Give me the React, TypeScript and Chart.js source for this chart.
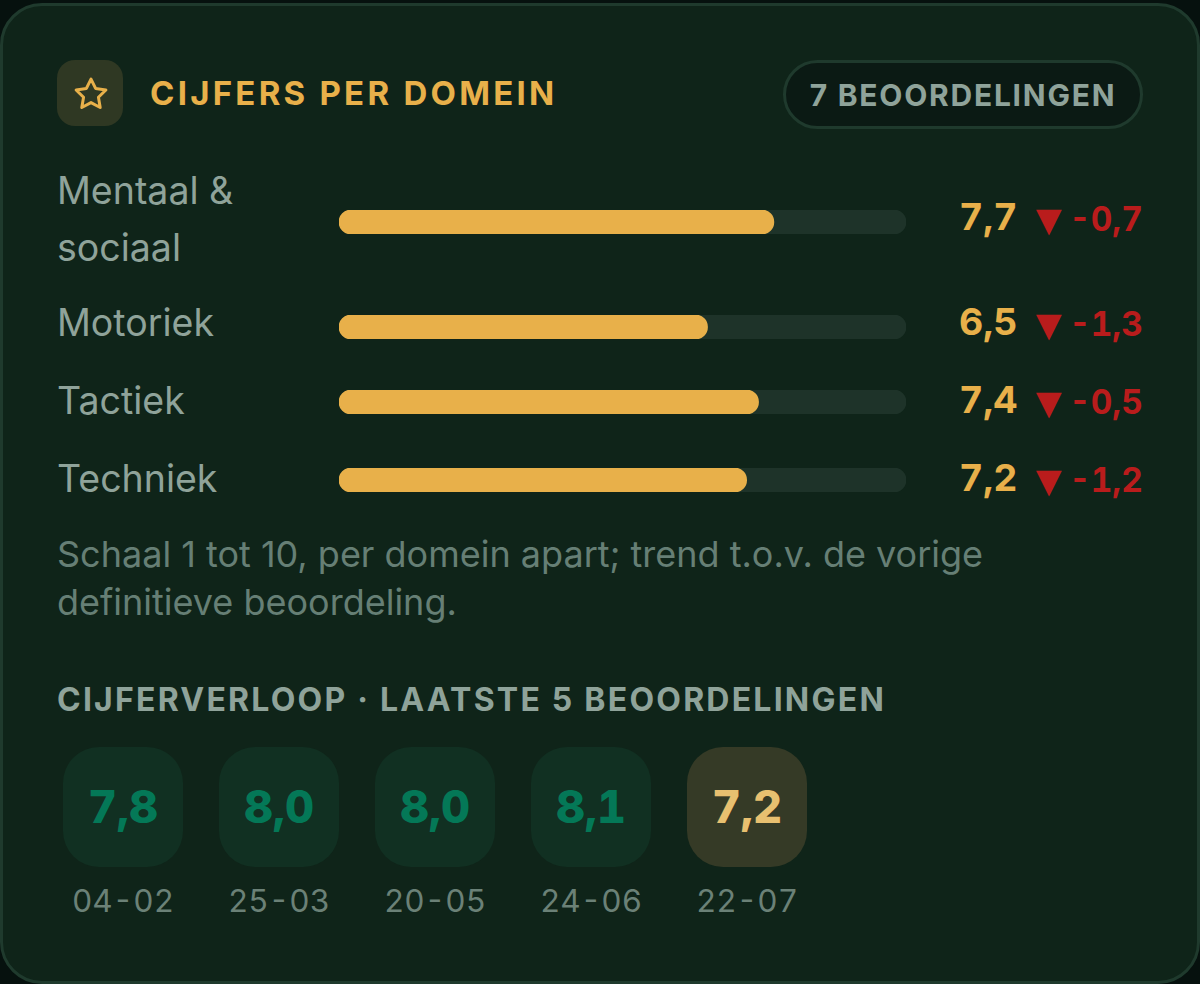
import React, { useEffect, useRef } from "react";
import { Chart, registerables } from "chart.js";

Chart.register(...registerables);

const domains = ["Mentaal &\nsociaal", "Motoriek", "Tactiek", "Techniek"];
const scores = [7.67, 6.5, 7.4, 7.19];
const scoreLabels = ["7,7", "6,5", "7,4", "7,2"];
const trends = ["-0,7", "-1,3", "-0,5", "-1,2"];
const scaleMax = 10;
const historyValues = ["7,8", "8,0", "8,0", "8,1", "7,2"];
const historyDates = ["04-02", "25-03", "20-05", "24-06", "22-07"];

const rowBarTop = [210, 315, 390, 468];
const rowLabelTop = [162, 294, 372, 450];
const rowValueTop = [188, 293, 371, 449];
const FONT = "Inter, sans-serif";

function abs(left: number, top: number, extra: React.CSSProperties = {}): React.CSSProperties {
  return { position: "absolute", left, top, whiteSpace: "pre", ...extra };
}

function BarRow({ label, value }: { label: string; value: number }) {
  const ref = useRef<HTMLCanvasElement | null>(null);
  useEffect(() => {
    const chart = new Chart(ref.current!, {
      type: "bar",
      data: {
        labels: [label],
        datasets: [
          {
            data: [value],
            backgroundColor: "#e8b04a",
            borderRadius: 12,
            borderSkipped: false,
            barThickness: 24,
            order: 1,
          },
          {
            data: [scaleMax],
            backgroundColor: "#1e3329",
            borderRadius: 12,
            borderSkipped: false,
            barThickness: 24,
            order: 2,
          },
        ],
      },
      options: {
        indexAxis: "y",
        responsive: false,
        animation: false,
        datasets: { bar: { grouped: false } },
        layout: { padding: 0 },
        plugins: { legend: { display: false }, tooltip: { enabled: false } },
        scales: {
          x: { display: false, min: 0, max: scaleMax },
          y: { display: false },
        },
      } as any,
    });
    return () => chart.destroy();
  }, [label, value]);
  return <canvas ref={ref} width={567} height={24} style={{ display: "block", width: 567, height: 24 }} />;
}

export default function App() {
  useEffect(() => {
    document.body.style.margin = "0";
    document.body.style.background = "#06110e";
  }, []);
  const tab: React.CSSProperties = { fontVariantNumeric: "tabular-nums" };
  return (
    <div style={{ position: "absolute", left: 0, top: 0, width: 1200, height: 984, overflow: "hidden", background: "#06110e", fontFamily: FONT }}>
      <div style={{ position: "absolute", left: 0, top: 3, width: 1200, height: 981, boxSizing: "border-box", background: "#0f2419", border: "3px solid #1f3a2d", borderRadius: 42 }} />

      <div style={{ position: "absolute", left: 57, top: 60, width: 66, height: 66, borderRadius: 18, background: "#2f3823", display: "flex", alignItems: "center", justifyContent: "center" }}>
        <svg width="38" height="38" viewBox="0 0 24 24" fill="none" stroke="#e8b04a" strokeWidth="1.9" strokeLinejoin="round" strokeLinecap="round" style={{ position: "relative", left: 1, top: 1 }}>
          <path d="M12 2.6l2.9 5.9 6.5.95-4.7 4.58 1.11 6.47L12 17.45 6.19 20.5 7.3 14.03 2.6 9.45l6.5-.95z" />
        </svg>
      </div>
      <div style={abs(150, 74, { fontSize: 33, fontWeight: 700, lineHeight: "39px", letterSpacing: 3.25, color: "#e8b04a" })}>CIJFERS PER DOMEIN</div>

      <div style={{ position: "absolute", left: 783, top: 60, width: 360, height: 69, boxSizing: "border-box", border: "3px solid #1f3a2d", borderRadius: 35, background: "#0b1a14", display: "flex", alignItems: "center", justifyContent: "center", color: "#8fa39a", fontSize: 30, fontWeight: 700, letterSpacing: 1.75, whiteSpace: "pre" }}>7 BEOORDELINGEN</div>

      {domains.map((d, i) => (
        <React.Fragment key={d}>
          <div style={abs(57, rowLabelTop[i], { fontSize: 37.5, lineHeight: i === 0 ? "57px" : "58px", color: "#8fa39a" })}>{d}</div>
          <div style={{ position: "absolute", left: 339, top: rowBarTop[i] }}>
            <BarRow label={d} value={scores[i]} />
          </div>
          <div style={{ ...tab, position: "absolute", right: 1200 - 1017.5, top: rowValueTop[i], fontSize: 37.5, lineHeight: "58px", fontWeight: 700, color: "#e8b04a", whiteSpace: "pre" }}>{scoreLabels[i]}</div>
          <div style={{ position: "absolute", left: 1027, top: rowValueTop[i] + 3, fontSize: 44, lineHeight: "58px", fontWeight: 700, fontFamily: "'Liberation Sans', sans-serif", color: "#b91c1c", whiteSpace: "pre" }}>▼</div>
          <div style={{ ...tab, position: "absolute", right: 1200 - 1143, top: rowValueTop[i] + 2, fontSize: 33.5, lineHeight: "58px", fontWeight: 700, color: "#b91c1c", whiteSpace: "pre" }}>{trends[i]}</div>
        </React.Fragment>
      ))}

      <div style={abs(57, 530, { fontSize: 36, lineHeight: "48px", color: "#667f75" })}>{"Schaal 1 tot 10, per domein apart; trend t.o.v. de vorige\ndefinitieve beoordeling."}</div>

      <div style={abs(57, 681, { fontSize: 32, lineHeight: "38px", fontWeight: 700, letterSpacing: 2.22, color: "#8fa39a" })}>CIJFERVERLOOP · LAATSTE 5 BEOORDELINGEN</div>

      {historyValues.map((v, i) => {
        const last = i === historyValues.length - 1;
        const left = 63 + i * 156;
        return (
          <React.Fragment key={i}>
            <div style={{ position: "absolute", left, top: 747, width: 120, height: 120, borderRadius: 36, background: last ? "#353a26" : "#113022" }} />
            <div style={{ ...tab, position: "absolute", left, top: 746, width: 120, height: 120, display: "flex", alignItems: "center", justifyContent: "center", fontSize: 45, fontWeight: 800, color: last ? "#e8c070" : "#047857" }}>{v}</div>
            <div style={{ ...tab, position: "absolute", left: left - 18, width: 156, top: 881, textAlign: "center", fontSize: 31.5, lineHeight: "40px", letterSpacing: 0, color: "#6b8177" }}>{historyDates[i]}</div>
          </React.Fragment>
        );
      })}
    </div>
  );
}
